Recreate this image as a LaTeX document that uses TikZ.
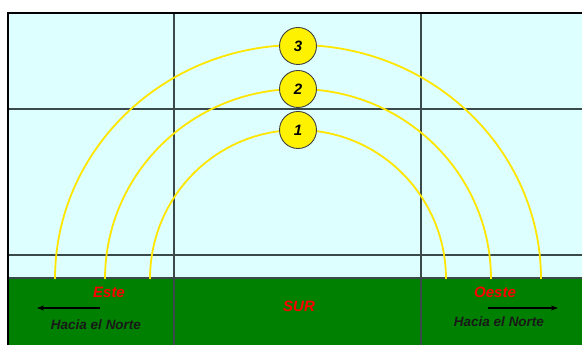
\documentclass[tikz,border=0pt]{standalone}
\usepackage{fontspec}
\setmainfont{Liberation Sans}
\usetikzlibrary{arrows.meta}
\definecolor{skyc}{HTML}{DDFFFF}
\definecolor{groundc}{HTML}{008000}
\definecolor{arcc}{HTML}{FFE600}
\definecolor{gridc}{HTML}{3A4A4A}
\tikzset{
  gridline/.style={draw=gridc, line width=1.1pt},
  sunpath/.style={draw=arcc, line width=1.8pt},
  hourdot/.style={circle, draw=black!75, line width=0.9pt, fill=yellow, minimum size=37pt, inner sep=0pt, font=\fontsize{15}{15}\selectfont\bfseries\itshape},
  dirlabel/.style={text=red, font=\fontsize{15}{15}\selectfont\bfseries\itshape},
  northlabel/.style={text=black!90, font=\fontsize{13.5}{13.5}\selectfont\bfseries\itshape},
  northarrow/.style={draw=black, line width=1.1pt, -{Stealth[length=7pt,width=5pt]}}
}
\begin{document}
\begin{tikzpicture}[x=1pt,y=1pt]
\useasboundingbox (0,0) rectangle (582,345);
% sky and ground
\fill[skyc] (8,66) rectangle (582,332);
\fill[groundc] (8,0) rectangle (582,66);
% grid
\draw[gridline] (174,0) -- (174,332);
\draw[gridline] (421,0) -- (421,332);
\draw[gridline] (8,236) -- (582,236);
\draw[gridline] (8,90) -- (582,90);
\draw[gridline] (8,67) -- (582,67);
% frame
\draw[black, line width=2pt] (8,0) -- (8,332) -- (582,332);
% sun paths
\draw[sunpath] (150,66) arc[start angle=180, end angle=0, x radius=148, y radius=149];
\draw[sunpath] (105,66) arc[start angle=180, end angle=0, x radius=193, y radius=190];
\draw[sunpath] (55,66) arc[start angle=180, end angle=0, x radius=243, y radius=234];
% hour dots
\node[hourdot] (c1) at (298,215) {1};
\node[hourdot] (c2) at (298,256) {2};
\node[hourdot] (c3) at (298,299) {3};
% labels
\node[dirlabel] (este) at (109,53) {Este};
\node[dirlabel] (sur) at (299,39) {SUR};
\node[dirlabel] (oeste) at (495,53) {Oeste};
\node[northlabel] (nl) at (96,20) {Hacia el Norte};
\node[northlabel] (nr) at (499,23) {Hacia el Norte};
% arrows
\coordinate (al0) at (100,37);
\coordinate (al1) at (37,37);
\coordinate (ar0) at (488,37);
\coordinate (ar1) at (558,37);
\draw[northarrow] (al0) -- (al1);
\draw[northarrow] (ar0) -- (ar1);
\end{tikzpicture}
\end{document}
